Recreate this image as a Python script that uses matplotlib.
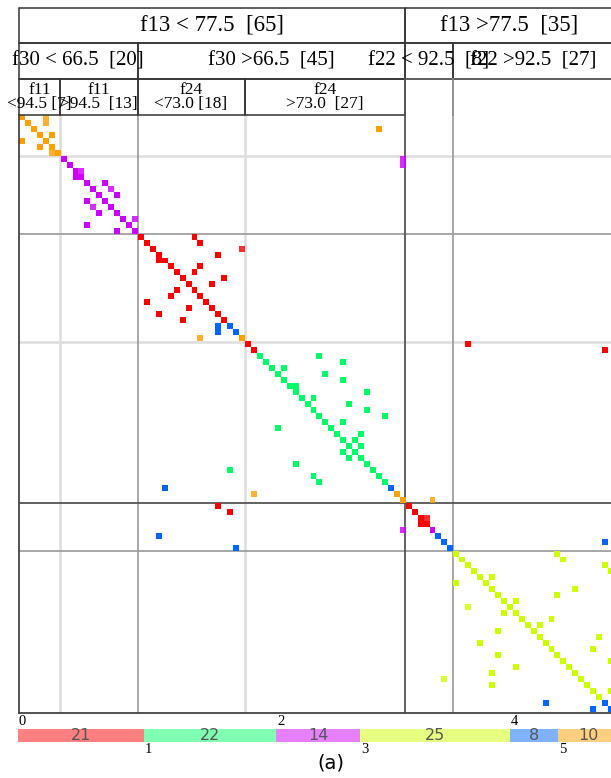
import numpy as np
import matplotlib.pyplot as plt
from matplotlib.colors import to_rgba
from matplotlib.patches import Rectangle

W, H = 611, 778

# cluster label of each item (run-length, in matrix order)
row_runs = [(5, 7), (2, 13), (0, 15), (4, 2), (5, 1), (0, 2), (1, 22),
            (4, 1), (5, 2), (0, 4), (2, 1), (4, 3), (3, 25), (4, 2)]

# columns that are filled in each row of the matrix
row_cols = [
    [0, 4], [1, 4], [2, 60], [3, 5], [0, 4], [3, 5], [5, 6],
    [7, 64], [8, 64], [9, 10], [9, 10], [11, 14], [12, 15], [13, 16],
    [11, 14], [12, 15], [13, 16], [17, 19], [11, 18], [16, 19],
    [20, 29], [21, 30], [22, 37], [23, 33], [23, 24], [25, 30], [26, 29],
    [27, 34], [28, 32], [26, 29], [25, 30], [21, 31], [28, 32], [23, 33],
    [27, 34], [33, 35], [33, 36], [30, 37], [38, 75], [39, 98],
    [40, 50], [41, 54], [42, 44], [43, 51], [44, 54], [45, 46], [46, 58],
    [47, 49], [48, 55], [49, 58], [50, 61], [51, 54], [43, 52], [53, 57],
    [54, 56], [55, 57], [54, 56], [55, 57], [46, 58], [35, 59], [49, 60],
    [50, 61], [24, 62], [39, 63], [64, 69], [33, 65], [35, 66], [67, 68],
    [67, 68], [64, 69], [23, 70], [71, 98], [36, 72],
    [73, 90], [74, 91], [75, 98], [76, 99], [77, 79], [73, 78], [79, 93],
    [80, 90], [81, 83], [75, 82], [81, 83], [84, 89], [85, 87], [80, 86],
    [87, 97], [77, 88], [89, 96], [80, 90], [91, 99], [83, 92], [79, 93],
    [71, 94], [79, 95], [96, 99], [97], [88, 98], [96, 99],
]

# paler cells
light_cells = [(0, 4), (1, 4), (6, 5), (9, 10), (12, 15), (15, 12), (17, 19),
               (22, 37), (37, 30), (63, 39), (64, 69), (69, 64), (67, 68),
               (7, 64), (8, 64), (94, 71), (82, 75)]

cluster_colors = ['#ff0000', '#00ff66', '#cc00ff', '#ccff00', '#0066ff', '#ff9f00']
bar_colors = ['#ff8080', '#80ffb3', '#e680ff', '#e6ff80', '#80b3ff', '#ffcf80']
cluster_ids = [0, 1, 2, 3, 4, 5]
cluster_sizes = [21, 22, 14, 25, 8, 10]

level1 = [('f13 < 77.5  [65]', 0, 65), ('f13 >77.5  [35]', 65, 100)]
level2 = [('f30 < 66.5  [20]', 0, 20), ('f30 >66.5  [45]', 20, 65),
          ('f22 < 92.5  [8]', 65, 73), ('f22 >92.5  [27]', 73, 100)]
level3 = [('f11\n<94.5 [7]', 0, 7), ('f11\n>94.5  [13]', 7, 20),
          ('f24\n<73.0 [18]', 20, 38), ('f24\n>73.0  [27]', 38, 65)]

split_major = [65]
split_mid = [20, 73]
split_minor = [7, 38]

serif = 'Liberation Serif'

fig = plt.figure(figsize=(W / 100, H / 100), dpi=100)


def px_axes(x0, y0, x1, y1):
    return fig.add_axes([x0 / W, 1 - y1 / H, (x1 - x0) / W, (y1 - y0) / H])


# --- matrix ---
labels = []
for lab, n in row_runs:
    labels += [lab] * n

img = np.zeros((100, 100, 4))
for r, cols in enumerate(row_cols):
    for c in cols:
        a = 0.82 if (r, c) in light_cells else 1.0
        img[r, c] = to_rgba(cluster_colors[labels[r]], a)

ax = px_axes(18.5, 114.5, 18.5 + 100 * 5.95, 114.5 + 100 * 5.98)
ax.set_xlim(0, 100)
ax.set_ylim(100, 0)
ax.axis('off')
for v in split_minor:
    ax.axhline(v, color='#dddddd', lw=1.8, zorder=1)
    ax.axvline(v, color='#dddddd', lw=1.8, zorder=1)
for v in split_mid:
    ax.axhline(v, color='#a0a0a0', lw=1.3, zorder=1)
    ax.axvline(v, color='#a0a0a0', lw=1.3, zorder=1)
for v in split_major:
    ax.axhline(v, color='#555555', lw=1.3, zorder=1)
    ax.axvline(v, color='#555555', lw=1.3, zorder=1)
ax.imshow(img, extent=(0, 100, 100, 0), interpolation='nearest', aspect='auto', zorder=2)
ax.plot([0, 0], [0, 100], color='#444444', lw=1.3, clip_on=False, zorder=3)
ax.plot([0, 100], [100, 100], color='#444444', lw=1.3, clip_on=False, zorder=3)

# --- header boxes ---
hx = px_axes(18.5, 7.5, 18.5 + 100 * 5.95, 115.0)
hx.set_xlim(0, 100)
hx.set_ylim(3, 0)
hx.axis('off')
for lvl, (boxes, fs) in enumerate([(level1, 16.5), (level2, 15), (level3, 12.5)]):
    for text, a, b in boxes:
        hx.add_patch(Rectangle((a, lvl), b - a, 1, fill=False, ec='#333333',
                               lw=1.1, clip_on=False))
        hx.text((a + b) / 2, lvl + 0.5, text, ha='center', va='center',
                fontsize=fs, family=serif, linespacing=0.85)
hx.plot([65, 65], [2, 3], color='#555555', lw=1.3, clip_on=False)
hx.plot([73, 73], [2, 3], color='#888888', lw=1.3, clip_on=False)

# --- cluster bar ---
bx = px_axes(18.3, 729, 18.3 + 600, 741.5)
bx.set_xlim(0, 100)
bx.set_ylim(0, 1)
bx.axis('off')
starts = np.concatenate([[0], np.cumsum(cluster_sizes)[:-1]])
bx.barh(0.5, cluster_sizes, left=starts, height=1, color=bar_colors, clip_on=False)
for cid, s, n in zip(cluster_ids, starts, cluster_sizes):
    bx.text(s + n / 2, 0.45, str(n), ha='center', va='center', fontsize=11.5,
            color='#555555', clip_on=False)
    if cid % 2 == 0:
        bx.text(s + 0.1, 1.05, str(cid), ha='left', va='bottom', fontsize=10.5,
                family=serif)
    else:
        bx.text(s + 0.1, -0.1, str(cid), ha='left', va='top', fontsize=10.5,
                family=serif)

fig.text(331 / W, 1 - 763 / H, '(a)', ha='center', va='center', fontsize=14)

fig.savefig('out.png', dpi=100)
